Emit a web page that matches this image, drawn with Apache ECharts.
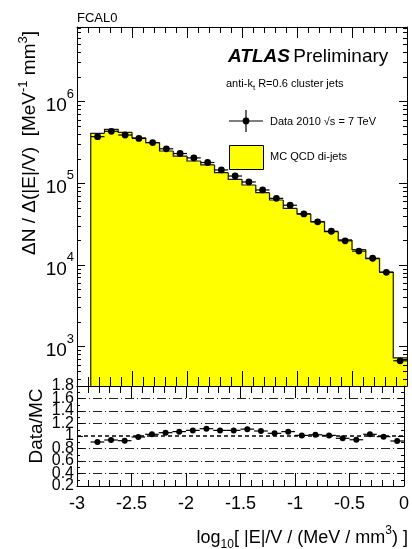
<!DOCTYPE html>
<html>
<head>
<meta charset="utf-8">
<script src="https://cdn.jsdelivr.net/npm/echarts@6/dist/echarts.min.js"></script>
<style>
  html, body { margin: 0; padding: 0; background: #fff; }
  #chart { width: 412px; height: 549px; }
</style>
</head>
<body>
<div id="chart"></div>
<script>
// Bin edges in log10[|E|/V / (MeV/mm^3)], 23 bins of width 0.125
const binEdges = [-2.875, -2.75, -2.625, -2.5, -2.375, -2.25, -2.125, -2.0,
  -1.875, -1.75, -1.625, -1.5, -1.375, -1.25, -1.125, -1.0,
  -0.875, -0.75, -0.625, -0.5, -0.375, -0.25, -0.125, 0];

// MC QCD di-jets, dN / d(|E|/V) per bin
const mcValues = [410000, 459000, 422000, 362000, 315000, 249000, 216000, 188000,
  168000, 135000, 112000, 95500, 76900, 62600, 49500, 42200,
  34000, 25600, 20300, 15500, 12000, 8200, 731];

// Data 2010, dN / d(|E|/V) per bin
const dataValues = [373000, 434000, 391000, 355000, 316000, 265000, 232000, 205000,
  180000, 146000, 123000, 104000, 83000, 65500, 54000, 42200,
  33800, 25900, 19800, 14800, 12100, 8150, 672];

// Data / MC per bin
const ratioValues = [0.904, 0.936, 0.925, 0.984, 1.027, 1.053, 1.07, 1.09,
  1.117, 1.09, 1.09, 1.11, 1.08, 1.043, 1.07, 1.01,
  1.02, 1.01, 0.963, 0.94, 1.027, 0.99, 0.92];

// Axis ticks
const xTicks = [-3, -2.5, -2, -1.5, -1, -0.5, 0];
const mainDecadeTicks = [1e3, 1e4, 1e5, 1e6];
const ratioEndTicks = [0.2, 1.8];
const ratioGridLines = [0.4, 0.6, 0.8, 1.2, 1.4, 1.6];
const ratioUnity = 1.0;

const X_MIN = -3, X_MAX = 0;
const Y_MIN = 330, Y_MAX = 8.22e6;
const R_MIN = 0.2, R_MAX = 1.8;

const FONT = '"Liberation Sans", Arial, Helvetica, sans-serif';
const INK = '#000';
const YELLOW = '#ffff00';

// minor log ticks at 2..9 x 10^n inside the visible range
const minorLogTicks = [];
for (let e = 2; e <= 6; e++) {
  for (let m = 2; m <= 9; m++) {
    const t = m * Math.pow(10, e);
    if (t > Y_MIN && t < Y_MAX) minorLogTicks.push(t);
  }
}

const mcItems = mcValues.map((v, i) => [binEdges[i], binEdges[i + 1], v]);
const dataItems = dataValues.map((v, i) => [binEdges[i], binEdges[i + 1], v]);
const ratioItems = ratioValues.map((v, i) => [binEdges[i], binEdges[i + 1], v]);

function xAxisDef(grid, pos, majorLen, minorLen, withLabels) {
  return {
    type: 'value', gridIndex: grid, position: pos,
    min: X_MIN, max: X_MAX, interval: 0.5, z: 10,
    axisLine: { show: true, onZero: false, lineStyle: { color: INK, width: 1 } },
    axisTick: { show: true, inside: true, length: majorLen, lineStyle: { color: INK, width: 1 } },
    minorTick: { show: true, splitNumber: 5, length: minorLen, lineStyle: { color: INK, width: 1 } },
    splitLine: { show: false },
    axisLabel: withLabels ? {
      show: true, margin: 9, color: INK, fontFamily: FONT, fontSize: 18,
      showMinLabel: true, showMaxLabel: true,
      formatter: v => String(v)
    } : { show: false }
  };
}

function logAxisDef(pos, ticks, len, withLabels, showLine) {
  return {
    type: 'log', gridIndex: 0, position: pos, min: Y_MIN, max: Y_MAX, z: 10,
    axisLine: { show: showLine, onZero: false, lineStyle: { color: INK, width: 1 } },
    axisTick: { show: true, inside: true, length: len, customValues: ticks, lineStyle: { color: INK, width: 1 } },
    minorTick: { show: false },
    splitLine: { show: false },
    axisLabel: withLabels ? {
      show: true, margin: 3, color: INK, fontFamily: FONT,
      customValues: mainDecadeTicks,
      formatter: v => '{n|10}{e|' + Math.round(Math.log10(v)) + '}',
      rich: {
        n: { fontSize: 19, fontFamily: FONT, color: INK, lineHeight: 16, verticalAlign: 'bottom' },
        e: { fontSize: 13, fontFamily: FONT, color: INK, lineHeight: 28, verticalAlign: 'top' }
      }
    } : { show: false }
  };
}

// Ratio axes: 'inner' labels the interior ticks, 'ends' labels only 0.2 and 1.8
function ratioAxisDef(pos, labelMode, withFrame) {
  const label = { show: true, margin: 3, color: INK, fontFamily: FONT, fontSize: 16,
    formatter: v => String(Math.round(v * 10) / 10) };
  if (labelMode === 'ends') {
    label.customValues = ratioEndTicks;
    label.showMinLabel = true;
    label.showMaxLabel = true;
  }
  return {
    type: 'value', gridIndex: 1, position: pos, min: R_MIN, max: R_MAX, interval: 0.2, z: 10,
    axisLine: { show: withFrame, onZero: false, lineStyle: { color: INK, width: 1 } },
    axisTick: { show: withFrame, inside: true, length: 6, lineStyle: { color: INK, width: 1 } },
    minorTick: { show: withFrame, splitNumber: 2, length: 3, lineStyle: { color: INK, width: 1 } },
    splitLine: { show: false },
    axisLabel: labelMode ? label : { show: false }
  };
}

// Filled histogram: one yellow column per bin, outlined as a step line
function renderHist(params, api) {
  const i = params.dataIndex;
  const x0 = api.value(0), x1 = api.value(1), v = api.value(2);
  const tl = api.coord([x0, v]);
  const tr = api.coord([x1, v]);
  const yBottom = params.coordSys.y + params.coordSys.height;
  const yPrev = i > 0 ? api.coord([x0, mcValues[i - 1]])[1] : yBottom;
  const overlap = i < mcValues.length - 1 ? 1 : 0;
  return {
    type: 'group',
    children: [
      { type: 'rect', shape: { x: tl[0], y: tl[1], width: tr[0] - tl[0] + overlap, height: yBottom - tl[1] },
        style: { fill: YELLOW } },
      { type: 'polyline', z2: 5, shape: { points: [[tl[0], yPrev], [tl[0], tl[1]], [tr[0], tr[1]]] },
        style: { stroke: '#1a1a1a', lineWidth: 1.2, fill: null } }
    ]
  };
}

// Data marker with its bin-width bar
function renderPoint(radius) {
  return function (params, api) {
    const x0 = api.value(0), x1 = api.value(1), v = api.value(2);
    const l = api.coord([x0, v]);
    const r = api.coord([x1, v]);
    const c = api.coord([(x0 + x1) / 2, v]);
    return {
      type: 'group',
      children: [
        { type: 'line', shape: { x1: l[0], y1: l[1], x2: r[0], y2: r[1] },
          style: { stroke: INK, lineWidth: 1.2 } },
        { type: 'circle', shape: { cx: c[0], cy: c[1], r: radius }, style: { fill: INK } }
      ]
    };
  };
}

const dashDot = [9, 3, 1, 3];

const option = {
  animation: false,
  backgroundColor: '#fff',
  grid: [
    { left: 77, top: 27, width: 330, height: 359 },
    { left: 77, top: 386, width: 330, height: 100 }
  ],
  xAxis: [
    xAxisDef(0, 'bottom', 15, 9, false),
    xAxisDef(0, 'top', 11, 6, false),
    xAxisDef(1, 'bottom', 13, 6, true),
    xAxisDef(1, 'top', 12, 7, false)
  ],
  yAxis: [
    logAxisDef('left', mainDecadeTicks, 8, true, true),
    logAxisDef('left', minorLogTicks, 4, false, false),
    logAxisDef('right', mainDecadeTicks, 8, false, true),
    logAxisDef('right', minorLogTicks, 4, false, false),
    ratioAxisDef('left', 'inner', true),
    ratioAxisDef('left', 'ends', false),
    ratioAxisDef('right', null, true)
  ],
  series: [
    {
      name: 'MC QCD di-jets', type: 'custom', xAxisIndex: 0, yAxisIndex: 0,
      data: mcItems, renderItem: renderHist, clip: true, silent: true, z: 2
    },
    {
      name: 'Data 2010', type: 'custom', xAxisIndex: 0, yAxisIndex: 0,
      data: dataItems, renderItem: renderPoint(3.4), clip: true, silent: true, z: 3
    },
    {
      name: 'reference lines', type: 'line', xAxisIndex: 2, yAxisIndex: 4, data: [],
      silent: true, z: 2,
      markLine: {
        silent: true, symbol: ['none', 'none'], label: { show: false },
        data: ratioGridLines.map(v => ({ yAxis: v, lineStyle: { color: '#222', width: 1, type: dashDot } }))
          .concat([{ yAxis: ratioUnity, lineStyle: { color: INK, width: 1.6, type: [4, 3] } }])
      }
    },
    {
      name: 'Data/MC', type: 'custom', xAxisIndex: 2, yAxisIndex: 4,
      data: ratioItems, renderItem: renderPoint(3), clip: true, silent: true, z: 4
    }
  ],
  graphic: [
    { type: 'text', x: 77, y: 18, style: { text: 'FCAL0', font: '13px ' + FONT, fill: INK, align: 'left', verticalAlign: 'middle' } },
    { type: 'text', x: 228, y: 57, style: {
        text: '{a|ATLAS} {p|Preliminary}', align: 'left', verticalAlign: 'middle',
        rich: {
          a: { font: 'italic bold 19px ' + FONT, fill: INK },
          p: { font: '19px ' + FONT, fill: INK }
        } } },
    { type: 'text', x: 226, y: 84, style: {
        text: '{t|anti-k}{s|t}{t| R=0.6 cluster jets}', align: 'left', verticalAlign: 'middle',
        rich: {
          t: { font: '11px ' + FONT, fill: INK, lineHeight: 16 },
          s: { font: '8px ' + FONT, fill: INK, lineHeight: 8, verticalAlign: 'bottom' }
        } } },
    // legend: data marker
    { type: 'line', shape: { x1: 229, y1: 121, x2: 263, y2: 121 }, style: { stroke: INK, lineWidth: 1.2 } },
    { type: 'line', shape: { x1: 246, y1: 110, x2: 246, y2: 132 }, style: { stroke: INK, lineWidth: 1.2 } },
    { type: 'circle', shape: { cx: 246, cy: 121, r: 3.4 }, style: { fill: INK } },
    { type: 'text', x: 270, y: 122, style: { text: 'Data 2010 \u221As = 7 TeV', font: '11px ' + FONT, fill: INK, align: 'left', verticalAlign: 'middle' } },
    // legend: MC box
    { type: 'rect', shape: { x: 229.5, y: 145.5, width: 34, height: 24 }, style: { fill: YELLOW, stroke: INK, lineWidth: 1 } },
    { type: 'text', x: 270, y: 157, style: { text: 'MC QCD di-jets', font: '11px ' + FONT, fill: INK, align: 'left', verticalAlign: 'middle' } },
    // y-axis title, main panel
    { type: 'text', x: 30, y: 143, rotation: Math.PI / 2, style: {
        text: '{t|\u0394N / \u0394(|E|/V)  [MeV}{s|-1}{t| mm}{s|3}{t|]}', align: 'center', verticalAlign: 'middle',
        rich: {
          t: { font: '19px ' + FONT, fill: INK, lineHeight: 26 },
          s: { font: '13px ' + FONT, fill: INK, lineHeight: 12, verticalAlign: 'top' }
        } } },
    // y-axis title, ratio panel
    { type: 'text', x: 37, y: 426, rotation: Math.PI / 2, style: {
        text: 'Data/MC', font: '19px ' + FONT, fill: INK, align: 'center', verticalAlign: 'middle' } },
    // x-axis title
    { type: 'text', x: 408, y: 538, style: {
        text: '{t|log}{b|10}{t|[ |E|/V / (MeV / mm}{s|3}{t|) ]}', align: 'right', verticalAlign: 'middle',
        rich: {
          t: { font: '18px ' + FONT, fill: INK, lineHeight: 26 },
          s: { font: '12px ' + FONT, fill: INK, lineHeight: 12, verticalAlign: 'top' },
          b: { font: '12px ' + FONT, fill: INK, lineHeight: 14, verticalAlign: 'bottom' }
        } } }
  ]
};

const chart = echarts.init(document.getElementById('chart'), null, { renderer: 'canvas' });
chart.setOption(option);
</script>
</body>
</html>
